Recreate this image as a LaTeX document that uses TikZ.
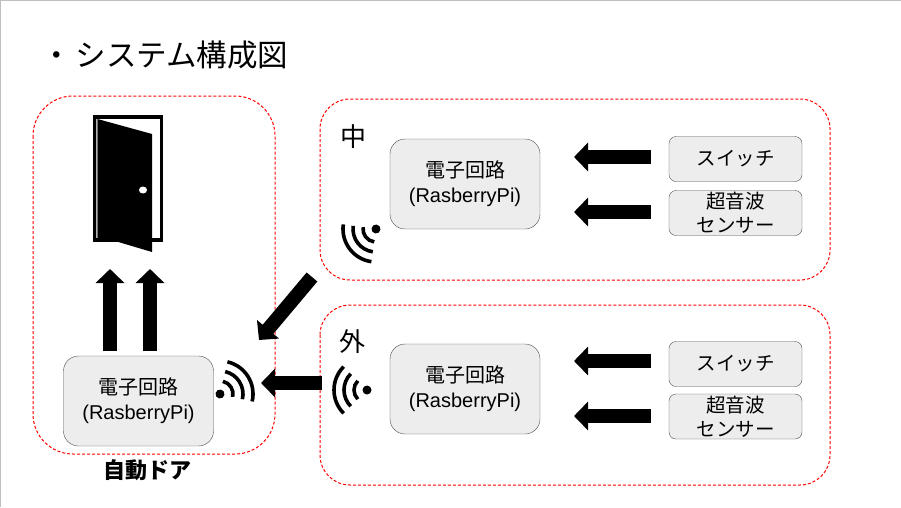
\documentclass[tikz,border=0pt]{standalone}
\usepackage{fontspec}
\setmainfont{Liberation Sans}
\newfontfamily\cjk{Noto Sans CJK JP}
\usetikzlibrary{arrows.meta}
\tikzset{
  panelbox/.style={draw=red, line width=1pt, dash pattern=on 3pt off 2pt, rounded corners=#1},
  circuitbox/.style={draw=black!70, fill=black!7, rounded corners=15pt, minimum width=150pt, minimum height=90pt,
    align=center, font=\fontsize{20}{25}\selectfont, inner sep=0pt},
  inputbox/.style={draw=black!70, fill=black!7, rounded corners=7pt, minimum width=133pt, minimum height=45pt,
    align=center, font=\fontsize{19.5}{24}\selectfont\cjk, inner sep=0pt},
  blockarrow/.style={line width=14pt, -{Triangle[length=14pt,width=28pt]}},
  wifi/.pic={
    \fill (0,0) circle (4.5);
    \foreach \r in {13,23,33}
      \draw[line width=3.6pt] (135:\r) arc[start angle=135, end angle=225, radius=\r];
  }
}
\begin{document}
\begin{tikzpicture}[x=1pt, y=-1pt]
  \useasboundingbox (0,0) rectangle (901,507);
  % slide edge
  \draw[black!25, line width=1pt] (0.5,507) -- (0.5,0.5) -- (901,0.5);

  \node[font=\fontsize{30.5}{32}\selectfont\cjk, inner sep=0pt, anchor=west] (title) at (41,55) {・\kern4pt システム構成図};

  % dashed panels
  \draw[panelbox=40pt] (33,96) rectangle (275,454);
  \draw[panelbox=30pt] (320,99) rectangle (830,280);
  \draw[panelbox=30pt] (320,305) rectangle (830,485);

  % door
  \fill (93,115) rectangle (163,242);
  \fill[white] (97,119) rectangle (160,238);
  \fill[black!30] (96,119) rectangle (97.5,238);
  \fill (97.5,119) -- (152,134) -- (152,252) -- (115,241) -- (97.5,238) -- cycle;
  \fill[white] (143,190) ellipse (4 and 3.5);

  \node[font=\fontsize{22}{24}\selectfont\cjk\bfseries, inner sep=0pt] (doorlabel) at (147,470) {自動ドア};
  \node[font=\fontsize{26}{28}\selectfont\cjk, inner sep=0pt] (inlabel) at (353,137) {中};
  \node[font=\fontsize{26}{28}\selectfont\cjk, inner sep=0pt] (outlabel) at (352,342) {外};

  % boxes
  \node[circuitbox] (circuitdoor) at (138.5,401) {{\cjk 電子回路}\\(RasberryPi)};
  \node[circuitbox] (circuitin) at (465,184) {{\cjk 電子回路}\\(RasberryPi)};
  \node[circuitbox] (circuitout) at (465,389) {{\cjk 電子回路}\\(RasberryPi)};
  \node[inputbox] (switchin) at (735.5,159) {スイッチ};
  \node[inputbox] (sensorin) at (735.5,213) {超音波\\センサー};
  \node[inputbox] (switchout) at (735.5,364) {スイッチ};
  \node[inputbox] (sensorout) at (735.5,416.5) {超音波\\センサー};

  % wifi icons
  \pic[rotate=-148] at (220,394) {wifi};
  \pic[rotate=37] at (376,229) {wifi};
  \pic at (367,390) {wifi};

  % free ends of the block arrows
  \coordinate (a1) at (651,157);
  \coordinate (a2) at (574,157);
  \coordinate (b1) at (651,212);
  \coordinate (b2) at (574,212);
  \coordinate (c1) at (651,361);
  \coordinate (c2) at (574,361);
  \coordinate (d1) at (651,416);
  \coordinate (d2) at (574,416);
  \coordinate (e1) at (322,383);
  \coordinate (e2) at (261,383);
  \coordinate (f1) at (312,277);
  \coordinate (f2) at (259,340);
  \coordinate (g1) at (110,351);
  \coordinate (g2) at (110,269);
  \coordinate (h1) at (150,351);
  \coordinate (h2) at (150,269);

  \foreach \s/\t in {a1/a2,b1/b2,c1/c2,d1/d2,e1/e2,f1/f2,g1/g2,h1/h2}
    \draw[blockarrow] (\s) -- (\t);
\end{tikzpicture}
\end{document}
